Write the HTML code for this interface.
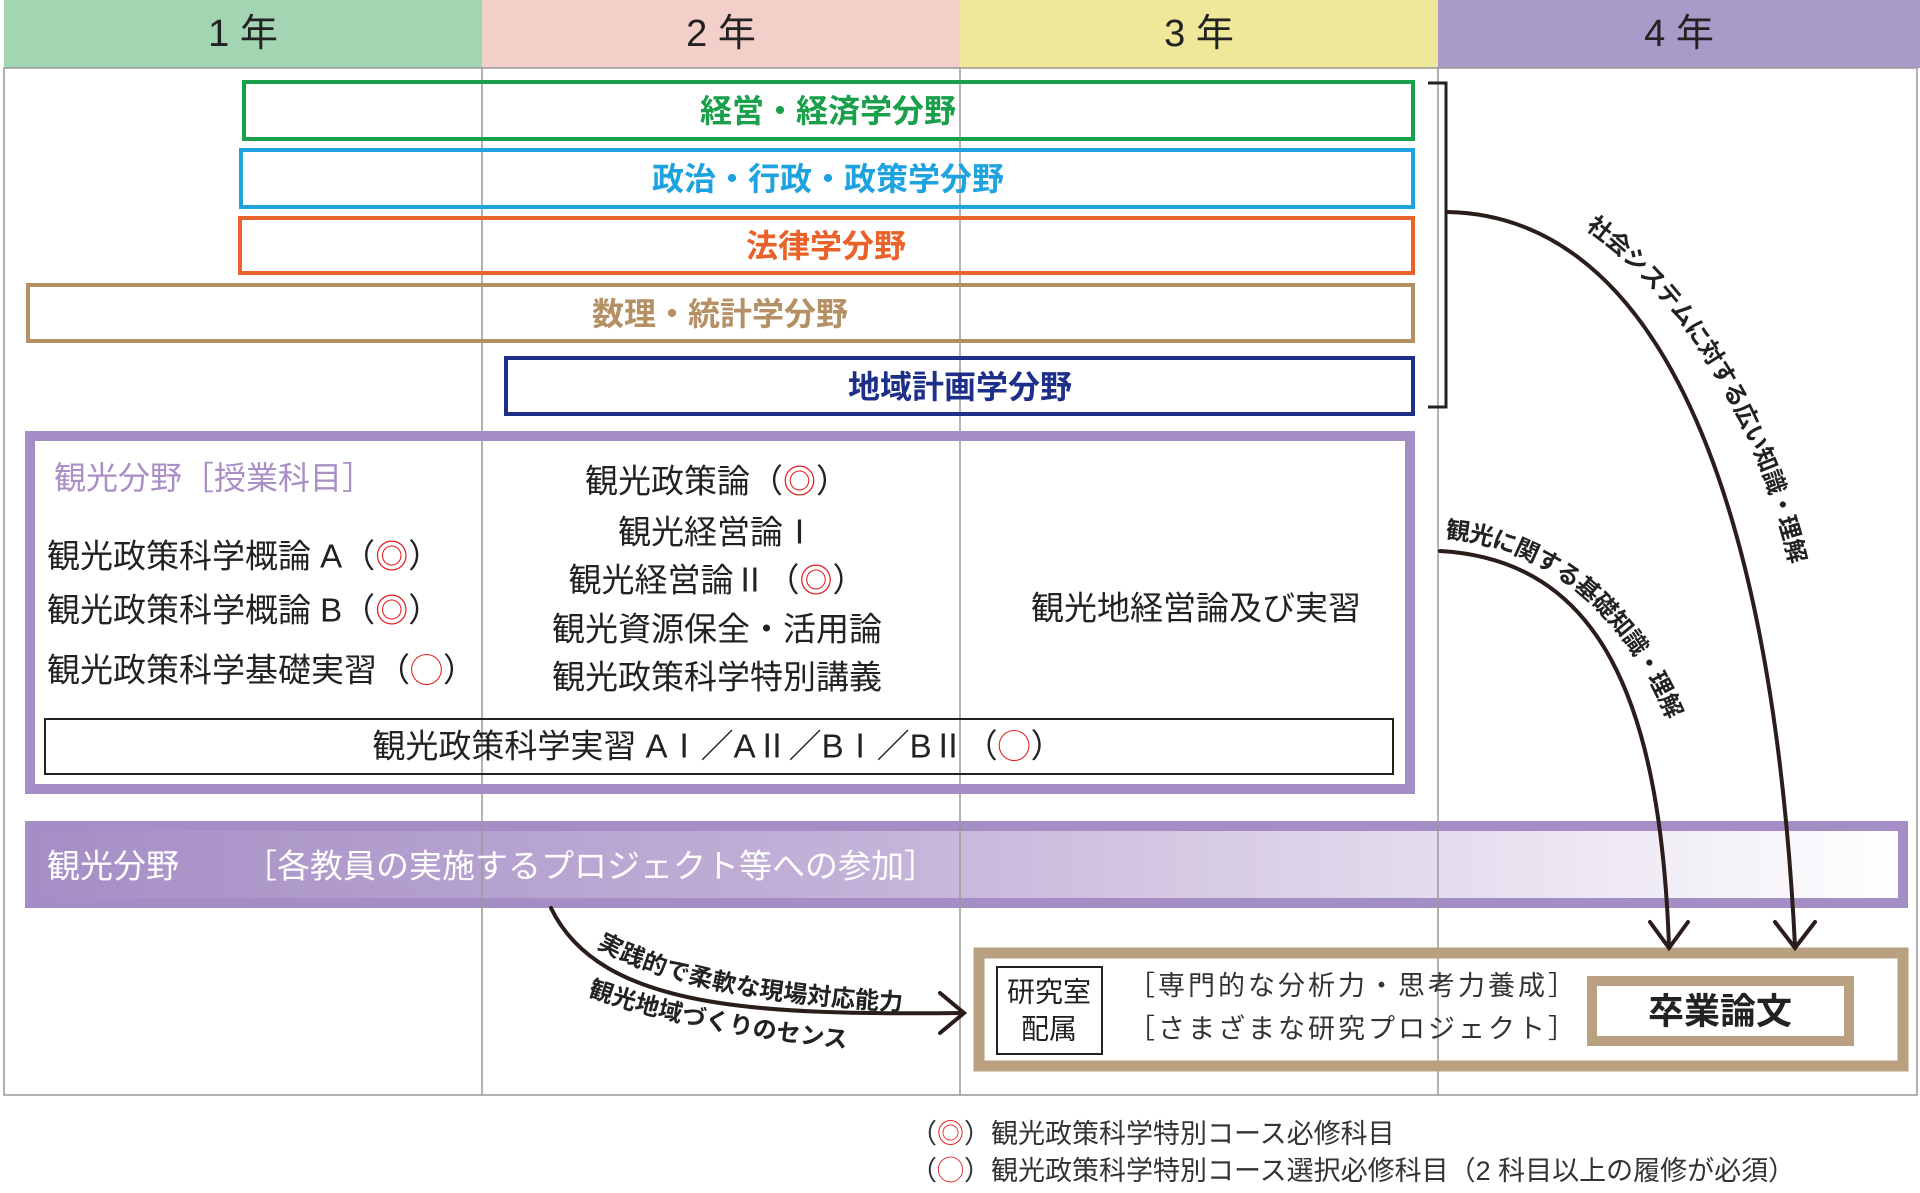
<!DOCTYPE html>
<html><head><meta charset="utf-8"><style>
html,body{margin:0;padding:0;background:#fff}
svg{display:block}
text{font-family:"Liberation Sans","Noto Sans CJK JP",sans-serif;dominant-baseline:central}
</style></head><body>
<svg width="1920" height="1193" viewBox="0 0 1920 1193" xmlns="http://www.w3.org/2000/svg">
<defs>
<linearGradient id="g" x1="0" x2="1" y1="0" y2="0">
<stop offset="0" stop-color="#a58ec5"/>
<stop offset="0.45" stop-color="#c3b2d8"/>
<stop offset="1" stop-color="#ffffff"/>
</linearGradient>
<path id="p1" d="M1447,212 C1640,215 1770,450 1795,946"/>
<path id="p2" d="M1440,551 C1600,560 1660,700 1669,946"/>
<path id="t1" d="M1590,222 C1700,300 1780,450 1805,600"/>
<path id="t2" d="M1446,530 C1560,540 1640,620 1680,730"/>
<path id="t3" d="M600,940 C680,985 800,1000 960,1005"/>
<path id="t4" d="M590,988 C680,1020 780,1035 900,1045"/>
</defs>
<!-- header -->
<rect x="4" y="0" width="478" height="68" fill="#a3d5b3"/>
<rect x="482" y="0" width="478" height="68" fill="#f2cfc8"/>
<rect x="960" y="0" width="478" height="68" fill="#efe89a"/>
<rect x="1438" y="0" width="482" height="68" fill="#a99bc9"/>
<g font-size="38" fill="#222" text-anchor="middle">
<text x="243" y="34">1 年</text><text x="721" y="34">2 年</text><text x="1199" y="34">3 年</text><text x="1679" y="34">4 年</text>
</g>
<!-- frame -->
<rect x="4" y="68" width="1913" height="1027" fill="none" stroke="#999" stroke-width="1.5"/>
<!-- purple band -->
<rect x="30" y="826" width="1873" height="77" fill="url(#g)" stroke="#a58ec5" stroke-width="10"/>
<g stroke="#999" stroke-width="1.5"><line x1="482" y1="68" x2="482" y2="1095"/><line x1="960" y1="68" x2="960" y2="1095"/><line x1="1438" y1="68" x2="1438" y2="1095"/></g>
<!-- field boxes -->
<g fill="none" stroke-width="4">
<rect x="244" y="82" width="1169" height="57" stroke="#1aa04b"/>
<rect x="241" y="150" width="1172" height="57" stroke="#1ea3e0"/>
<rect x="240" y="218" width="1173" height="55" stroke="#e8622a"/>
<rect x="28" y="285" width="1385" height="56" stroke="#b49064"/>
<rect x="506" y="358" width="907" height="56" stroke="#1e2f8a"/>
</g>
<g font-size="32" font-weight="bold" text-anchor="middle">
<text x="828" y="111" fill="#1aa04b">経営・経済学分野</text>
<text x="828" y="179" fill="#1ea3e0">政治・行政・政策学分野</text>
<text x="826" y="246" fill="#e8622a">法律学分野</text>
<text x="720" y="314" fill="#b49064">数理・統計学分野</text>
<text x="960" y="387" fill="#1e2f8a">地域計画学分野</text>
</g>
<path d="M1428,83 H1446 V407 H1428" fill="none" stroke="#222" stroke-width="3"/>
<!-- tourism courses box -->
<rect x="30" y="436" width="1380" height="353" fill="none" stroke="#a58ec5" stroke-width="10"/>
<rect x="45" y="719" width="1348" height="55" fill="none" stroke="#222" stroke-width="2"/>
<text x="54" y="478" font-size="32" fill="#a98fc6">観光分野［授業科目］</text>
<g font-size="33" fill="#222">
<text x="47" y="556">観光政策科学概論 A（<tspan fill="#e02020">◎</tspan>）</text>
<text x="47" y="610">観光政策科学概論 B（<tspan fill="#e02020">◎</tspan>）</text>
<text x="47" y="670">観光政策科学基礎実習（<tspan fill="#e02020">◯</tspan>）</text>
</g>
<g font-size="33" fill="#222" text-anchor="middle">
<text x="717" y="481">観光政策論（<tspan fill="#e02020">◎</tspan>）</text>
<text x="717" y="532">観光経営論Ⅰ</text>
<text x="717" y="580">観光経営論Ⅱ（<tspan fill="#e02020">◎</tspan>）</text>
<text x="717" y="629">観光資源保全・活用論</text>
<text x="717" y="677">観光政策科学特別講義</text>
<text x="1196" y="608">観光地経営論及び実習</text>
<text x="718" y="746">観光政策科学実習 AⅠ／AⅡ／BⅠ／BⅡ（<tspan fill="#e02020">◯</tspan>）</text>
</g>
<g font-size="33" fill="#fff"><text x="47" y="866">観光分野</text><text x="244" y="866">［各教員の実施するプロジェクト等への参加］</text></g>
<!-- bottom boxes -->
<rect x="979" y="953" width="924" height="113" fill="none" stroke="#b8a080" stroke-width="11"/>
<rect x="997" y="967" width="105" height="87" fill="none" stroke="#222" stroke-width="2"/>
<g font-size="28" fill="#222" text-anchor="middle"><text x="1049" y="992">研究室</text><text x="1049" y="1029">配属</text></g>
<g font-size="27" fill="#333" letter-spacing="3"><text x="1128" y="986">［専門的な分析力・思考力養成］</text><text x="1128" y="1029">［さまざまな研究プロジェクト］</text></g>
<rect x="1592" y="981" width="257" height="60" fill="none" stroke="#b8a080" stroke-width="10"/>
<text x="1720" y="1011" font-size="36" font-weight="bold" fill="#222" text-anchor="middle">卒業論文</text>
<!-- arrows -->
<g fill="none" stroke="#2a1d1a" stroke-width="4" stroke-linecap="round">
<use href="#p1"/><use href="#p2"/>
<path d="M1775,922 L1795,948 L1815,922"/>
<path d="M1650,922 L1669,948 L1688,922"/>
<path d="M551,908 C600,1010 760,1015 963,1013"/>
<path d="M940,993 L964,1013 L940,1033"/>
</g>
<g font-size="24" font-weight="bold" fill="#222">
<text><textPath href="#t1">社会システムに対する広い知識・理解</textPath></text>
<text><textPath href="#t2">観光に関する基礎知識・理解</textPath></text>
<text><textPath href="#t3">実践的で柔軟な現場対応能力</textPath></text>
<text><textPath href="#t4">観光地域づくりのセンス</textPath></text>
</g>
<!-- legend -->
<g font-size="27" fill="#333">
<text x="910" y="1134">（<tspan fill="#e02020">◎</tspan>）観光政策科学特別コース必修科目</text>
<text x="910" y="1171">（<tspan fill="#e02020">◯</tspan>）観光政策科学特別コース選択必修科目（2 科目以上の履修が必須）</text>
</g>
</svg>
</body></html>
